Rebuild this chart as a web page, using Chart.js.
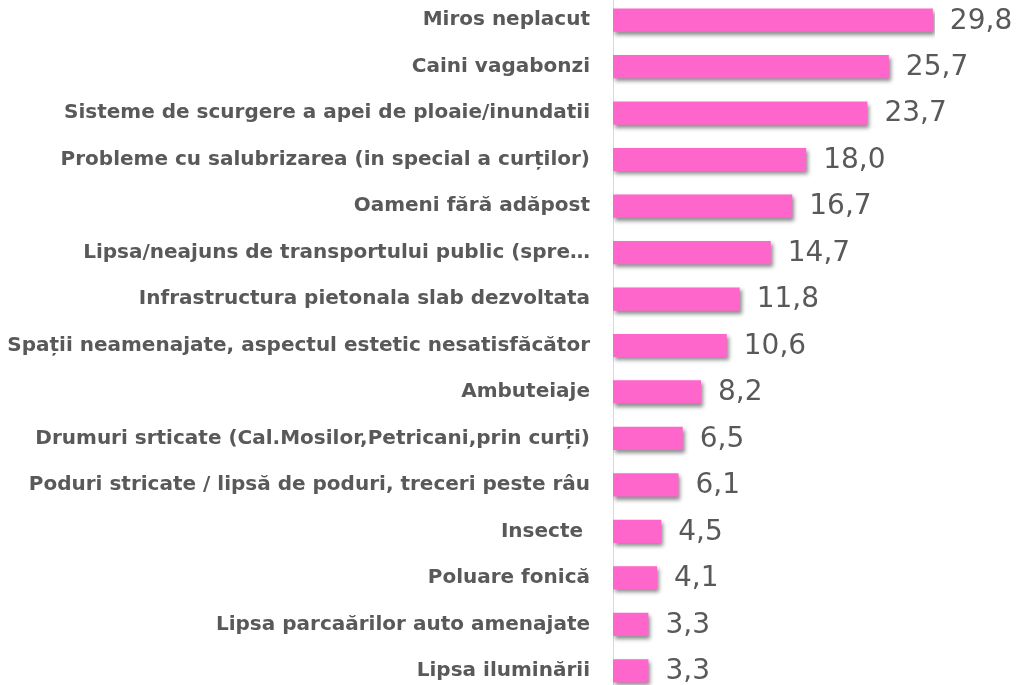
<!DOCTYPE html>
<html><head><meta charset="utf-8">
<script src="https://cdn.jsdelivr.net/npm/chart.js@4"></script>
<style>
html,body{margin:0;padding:0;background:#fff;overflow:hidden;width:1023px;height:685px}
#c{position:absolute;left:0;top:-3px;}
</style></head><body>
<canvas id="c" width="1023" height="697" style="width:1023px;height:697px"></canvas>
<script>
const categories = [
  "Miros neplacut",
  "Caini vagabonzi",
  "Sisteme de scurgere a apei de ploaie/inundatii",
  "Probleme cu salubrizarea (in special a curților)",
  "Oameni fără adăpost",
  "Lipsa/neajuns de transportului public (spre…",
  "Infrastructura pietonala slab dezvoltata",
  "Spații neamenajate, aspectul estetic nesatisfăcător",
  "Ambuteiaje",
  "Drumuri srticate (Cal.Mosilor,Petricani,prin curți)",
  "Poduri stricate / lipsă de poduri, treceri peste râu",
  "Insecte ",
  "Poluare fonică",
  "Lipsa parcaărilor auto amenajate",
  "Lipsa iluminării"
];
const values = [29.8, 25.7, 23.7, 18.0, 16.7, 14.7, 11.8, 10.6, 8.2, 6.5, 6.1, 4.5, 4.1, 3.3, 3.3];
const xTicks = [0, 30];

const shadowPlugin = {
  id: 'shadow',
  beforeDatasetsDraw(chart) {
    const ctx = chart.ctx;
    ctx.save();
    ctx.shadowColor = 'rgba(0,0,0,0.45)';
    ctx.shadowBlur = 4;
    ctx.shadowOffsetX = 2;
    ctx.shadowOffsetY = 3;
  },
  afterDatasetsDraw(chart) {
    chart.ctx.restore();
  }
};

const valuePlugin = {
  id: 'values',
  afterDatasetsDraw(chart) {
    const ctx = chart.ctx;
    const meta = chart.getDatasetMeta(0);
    ctx.save();
    ctx.font = '28px "DejaVu Sans", sans-serif';
    ctx.fillStyle = '#595959';
    ctx.textAlign = 'left';
    ctx.textBaseline = 'middle';
    meta.data.forEach((bar, i) => {
      const txt = values[i].toFixed(1).replace('.', ',');
      ctx.fillText(txt, bar.x + 17, bar.y + 1);
    });
    ctx.restore();
  }
};

new Chart(document.getElementById('c'), {
  type: 'bar',
  data: {
    labels: categories,
    datasets: [{
      data: values,
      backgroundColor: '#FF66CC',
      borderWidth: 0,
      barPercentage: 0.5,
      categoryPercentage: 1.0
    }]
  },
  options: {
    indexAxis: 'y',
    responsive: false,
    maintainAspectRatio: false,
    animation: false,
    layout: { padding: { left: 0, right: 88, top: 0, bottom: 0 } },
    plugins: { legend: { display: false }, tooltip: { enabled: false } },
    scales: {
      x: {
        min: xTicks[0], max: xTicks[1],
        display: false,
        grid: { display: false }
      },
      y: {
        afterFit(scale) { scale.width = 613; scale.paddingTop = 0; scale.paddingBottom = 0; },
        grid: { display: false, drawTicks: false },
        border: { display: true, color: '#d9d9d9', width: 1 },
        ticks: {
          padding: 23,
          color: '#595959',
          font: { family: '"DejaVu Sans", sans-serif', weight: 'bold', size: 20 }
        }
      }
    }
  },
  plugins: [shadowPlugin, valuePlugin]
});
</script>
</body></html>
